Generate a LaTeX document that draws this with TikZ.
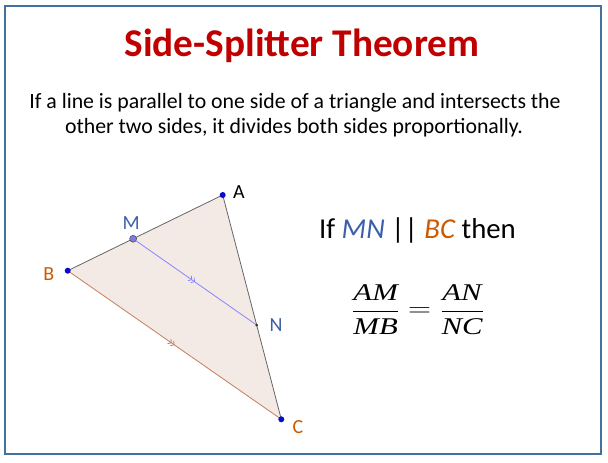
\documentclass[tikz,border=0pt]{standalone}
\usepackage{fontspec}
\setmainfont{Carlito}
\newfontfamily\timesfont{Liberation Serif}
\usetikzlibrary{positioning,calc,decorations.markings,arrows.meta}

\definecolor{titlered}{HTML}{C00000}
\definecolor{frameblue}{HTML}{41719C}
\definecolor{ptblue}{HTML}{0A0ACC}
\definecolor{lblblue}{HTML}{3D5FAA}
\definecolor{lblorange}{HTML}{CC5A00}
\definecolor{trifill}{HTML}{F4EAE5}
\definecolor{bcline}{HTML}{C27E5C}
\definecolor{mnline}{HTML}{8585FF}
\definecolor{mdot}{HTML}{7C7CE0}

\tikzset{
  vertex/.style={shape=circle,fill=ptblue,inner sep=0pt,minimum size=6pt},
  side/.style={draw=black!60,line width=0.8pt},
  vlabel/.style={font=\fontsize{20}{24}\selectfont,inner sep=0pt},
  parmark/.style={postaction={decorate},decoration={markings,
      mark=at position 0.5 with {\arrow[line width=0.8pt]{Straight Barb[length=2.5pt,width=6pt]Straight Barb[length=2.5pt,width=6pt]}}}}
}

\begin{document}
\begin{tikzpicture}[x=1pt,y=-1pt]
        \useasboundingbox (0,0) rectangle (608,463);
        \draw[frameblue,line width=1.3pt] (5,6) rectangle (601,454);

        % title and statement
        \node[anchor=base,text=titlered,font=\fontsize{39.3}{46}\selectfont\bfseries] (title) at (302,56) {Side-Splitter Theorem};
        \node[anchor=base,font=\fontsize{21.8}{26}\selectfont] (stmt1) at (295,108.3) {If a line is parallel to one side of a triangle and intersects the};
        \node[anchor=base,font=\fontsize{21.8}{26}\selectfont] (stmt2) at (294,133.3) {other two sides, it divides both sides proportionally.};

        % triangle
        \coordinate (A) at (222.7,195);
        \coordinate (B) at (67.7,270.7);
        \coordinate (C) at (281.3,419.3);
        \coordinate (M) at ($(A)!0.578!(B)$);
        \coordinate (N) at ($(A)!0.58!(C)$);

        \fill[trifill] (A) -- (B) -- (C) -- cycle;
        \path[side] (A) edge (B);
        \path[side] (A) edge (C);
        \draw[bcline,line width=0.8pt,parmark] (B) -- (C);
        \draw[mnline,line width=0.8pt,parmark] (M) -- (N);

        \node[vertex] (dA) at (A) {};
        \node[vertex] (dB) at (B) {};
        \node[vertex] (dC) at (C) {};
        \node[shape=circle,fill=mdot,draw=black!70,line width=0.5pt,inner sep=0pt,minimum size=7pt] (dM) at (M) {};
        \node[shape=circle,fill=black!80,inner sep=0pt,minimum size=3pt] (dN) at (N) {};

        \node[vlabel] (lA) [right=7pt of dA,yshift=2.5pt] {A};
        \node[vlabel,text=lblblue] (lM) [above=5pt of dM,xshift=-2pt] {M};
        \node[vlabel,text=lblorange] (lB) [left=10pt of dB,yshift=-3pt] {B};
        \node[vlabel,text=lblblue] (lN) [right=11pt of dN] {N};
        \node[vlabel,text=lblorange] (lC) [right=8pt of dC,yshift=-8pt] {C};

        % conclusion
        \node[anchor=base,font=\fontsize{28.8}{34}\selectfont] (cond) at (417.5,238.3)
            {If \textcolor{lblblue}{\itshape MN} || \textcolor{lblorange}{\itshape BC} then};
        \node[font=\fontsize{24}{28}\selectfont] (ratio) at (418,309.3)
            {\scalebox{1.28}[1]{$\displaystyle\frac{\hbox{\timesfont\itshape AM}}{\hbox{\timesfont\itshape MB}}
              =\frac{\hbox{\timesfont\itshape AN}}{\hbox{\timesfont\itshape NC}}$}};
\end{tikzpicture}
\end{document}
